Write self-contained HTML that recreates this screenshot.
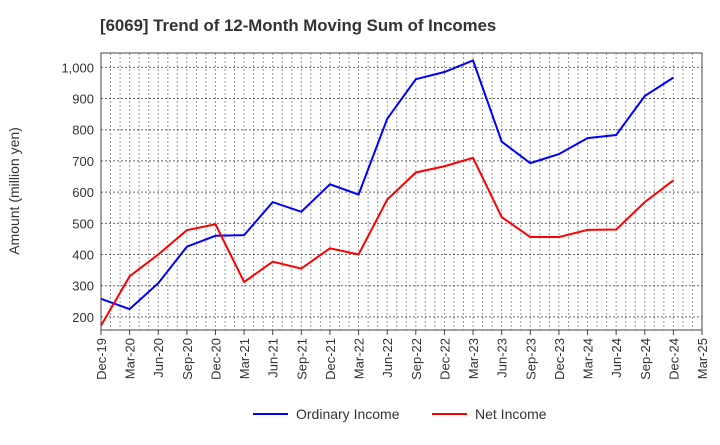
<!DOCTYPE html>
<html><head><meta charset="utf-8"><style>
body{margin:0;background:#fff;font-family:"Liberation Sans",sans-serif}
</style></head><body>
<svg width="720" height="440" xmlns="http://www.w3.org/2000/svg" id="chart">
<text x="100" y="31" font-size="16.8" font-weight="bold" fill="#333">[6069]  Trend of 12-Month Moving Sum of Incomes</text>
<text transform="translate(19,191) rotate(-90)" text-anchor="middle" font-size="14" fill="#333">Amount (million yen)</text>
<g id="grid"></g><g id="series"></g><g id="axes"></g>
<g>
<line x1="253" y1="414" x2="288" y2="414" stroke="#0000ff" stroke-width="2"/>
<text x="296" y="419" font-size="14" fill="#333">Ordinary Income</text>
<line x1="432" y1="414" x2="467" y2="414" stroke="#ff0000" stroke-width="2"/>
<text x="475" y="419" font-size="14" fill="#333">Net Income</text>
</g>
</svg>
<script>
const categories=["Dec-19","Mar-20","Jun-20","Sep-20","Dec-20","Mar-21","Jun-21","Sep-21","Dec-21","Mar-22","Jun-22","Sep-22","Dec-22","Mar-23","Jun-23","Sep-23","Dec-23","Mar-24","Jun-24","Sep-24","Dec-24","Mar-25"];
const ordinaryIncome=[258,225,308,425,460,462,568,537,625,592,835,962,985,1022,762,693,722,773,783,908,967];
const netIncome=[172,330,400,478,497,312,377,355,420,400,576,663,683,710,520,456,456,479,480,568,638];
const yTicks=[200,300,400,500,600,700,800,900,1000];
const X0=101,X1=702,Y0=53,Y1=330,VMIN=158,VMAX=1046;
const ns="http://www.w3.org/2000/svg";
const xs=i=>X0+(X1-X0)*i/(categories.length-1);
const ys=v=>Y1-(v-VMIN)/(VMAX-VMIN)*(Y1-Y0);
function mk(t,a,p){const e=document.createElementNS(ns,t);for(const k in a)e.setAttribute(k,a[k]);p.appendChild(e);return e;}
const grid=document.getElementById('grid'),ser=document.getElementById('series'),ax=document.getElementById('axes');
const months=(categories.length-1)*3;
for(let m=1;m<months;m++){const x=X0+(X1-X0)*m/months;const l=mk('line',{x1:x,y1:Y0,x2:x,y2:Y1,stroke:'#999','stroke-width':1,'stroke-dasharray':'2,2'},grid);

}
yTicks.forEach(v=>{const y=ys(v);const l=mk('line',{x1:X0,y1:y,x2:X1,y2:y,stroke:'#666','stroke-width':1,'stroke-dasharray':'2,2'},grid);


const t=mk('text',{x:X0-7,y:y+5,'text-anchor':'end','font-size':13,fill:'#333'},ax);t.textContent=v.toLocaleString('en-US');

});
const frame=mk('rect',{x:X0,y:Y0,width:X1-X0,height:Y1-Y0,fill:'none',stroke:'#444','stroke-width':1},ax);


categories.forEach((c,i)=>{const x=xs(i);mk('line',{x1:x,y1:Y1,x2:x,y2:Y1+5,stroke:'#444'},ax);
const t=mk('text',{transform:`translate(${x+5},${Y1+8}) rotate(-90)`,'text-anchor':'end','font-size':13,fill:'#333'},ax);t.textContent=c;

});
function line(d,col,name){const p=mk('polyline',{points:d.map((v,i)=>xs(i)+','+ys(v)).join(' '),fill:'none',stroke:col,'stroke-width':2},ser);

}
line(ordinaryIncome,'#0000ff','ordinary-income-line');
line(netIncome,'#ff0000','net-income-line');
</script>
</body></html>
